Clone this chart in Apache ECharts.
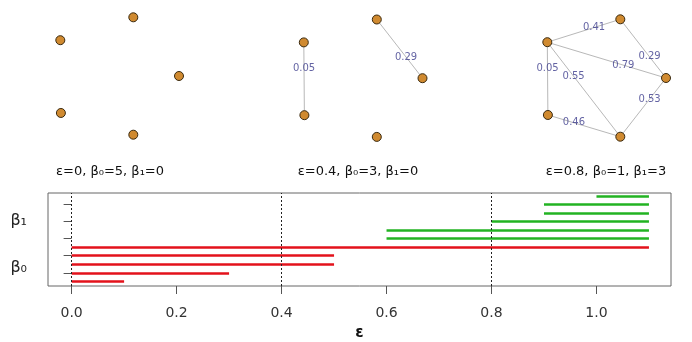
<!DOCTYPE html>
<html>
<head>
<meta charset="utf-8">
<script src="https://cdn.jsdelivr.net/npm/echarts@6/dist/echarts.min.js"></script>
<style>
  html, body { margin: 0; padding: 0; background: #fff; }
  #chart { width: 692px; height: 342px; }
</style>
</head>
<body>
<div id="chart"></div>
<script>
// point cloud (layout units, y up)
var nodeX = [0.23, -1, 1, -0.99, 0.23]
var nodeY = [1, 0.61, 0.0, -0.63, -1]

// edges of the Rips complex: source, target, distance
var edgeSource = [3, 0, 1, 4, 4, 4, 1]
var edgeTarget = [1, 2, 0, 3, 2, 1, 2]
var edgeWeight = [0.05, 0.29, 0.41, 0.46, 0.53, 0.55, 0.79]

// the three snapshots
var epsilons = [0, 0.4, 0.8]
var betti0 = [5, 3, 1]
var betti1 = [0, 0, 3]

// barcode
var h0Birth = [0, 0, 0, 0, 0]
var h0Death = [0.1, 0.3, 0.5, 0.5, 1.1]
var h1Birth = [0.6, 0.6, 0.8, 0.9, 0.9, 1.0]
var h1Death = [1.1, 1.1, 1.1, 1.1, 1.1, 1.1]
var epsLines = [0, 0.4, 0.8]

var xTicks = [0, 0.2, 0.4, 0.6, 0.8, 1.0]
var yTicks = [2, 4, 6, 8, 10]
var yLabelPos = [3, 8.5]
var yLabels = ['β₀', 'β₁']

var font = 'DejaVu Sans'
var panelLeft = [60.3, 303.8, 547.3]
var panelTop = [17.3, 19.5, 19.3]
var captionX = [110, 358, 606]
var labelFrac = 0.64

var chart = echarts.init(document.getElementById('chart'), null, { renderer: 'canvas' })

var grids = [{ left: 48, top: 193, width: 623, height: 93, show: true, borderColor: '#666', borderWidth: 1 }]
var xAxes = [{
  type: 'value', gridIndex: 0, min: -0.045, max: 1.142,
  splitLine: { show: false },
  axisLine: { show: false },
  axisTick: { customValues: xTicks, length: 8, lineStyle: { color: '#555' } },
  axisLabel: {
    customValues: xTicks, margin: 20, fontSize: 14, color: '#333', fontFamily: font,
    formatter: function (v) { return v.toFixed(1) }
  },
  name: 'ε', nameLocation: 'middle', nameGap: 40,
  nameTextStyle: { fontSize: 15, fontWeight: 'bold', color: '#111', fontFamily: font }
}]
var yAxes = [{
  type: 'value', gridIndex: 0, min: 0.45, max: 11.35,
  splitLine: { show: false },
  axisLine: { show: false },
  axisTick: { customValues: yTicks, length: 8, lineStyle: { color: '#555' } },
  axisLabel: {
    customValues: yLabelPos, margin: 21, color: '#222',
    formatter: function (v) { return '{b|' + yLabels[yLabelPos.indexOf(v)] + '}' },
    rich: { b: { fontSize: 16, fontFamily: font, color: '#222', padding: [8, 0, 0, 0] } }
  }
}]

var series = []

// barcode bars
series.push({
  type: 'lines', coordinateSystem: 'cartesian2d', xAxisIndex: 0, yAxisIndex: 0,
  lineStyle: { color: '#e3121b', width: 2.5, opacity: 1 },
  data: h0Birth.map(function (b, i) { return { coords: [[b, i + 1], [h0Death[i], i + 1]] } })
})
series.push({
  type: 'lines', coordinateSystem: 'cartesian2d', xAxisIndex: 0, yAxisIndex: 0,
  lineStyle: { color: '#22b322', width: 2.5, opacity: 1 },
  data: h1Birth.map(function (b, i) {
    var y = h0Birth.length + 1 + i
    return { coords: [[b, y], [h1Death[i], y]] }
  })
})
series.push({
  type: 'lines', coordinateSystem: 'cartesian2d', xAxisIndex: 0, yAxisIndex: 0,
  lineStyle: { color: '#222', width: 1, type: [2, 2], opacity: 1 },
  data: epsLines.map(function (e) { return { coords: [[e, 0.45], [e, 11.35]] } })
})

// the three graphs
epsilons.forEach(function (eps, k) {
  grids.push({ left: panelLeft[k], top: panelTop[k], width: 118.7, height: 117.4 })
  xAxes.push({ type: 'value', gridIndex: k + 1, min: -1, max: 1, show: false })
  yAxes.push({ type: 'value', gridIndex: k + 1, min: -1, max: 1, show: false })

  var links = []
  var labels = []
  for (var i = 0; i < edgeWeight.length; i++) {
    if (edgeWeight[i] > eps) continue
    var s = edgeSource[i], t = edgeTarget[i]
    links.push({ source: s, target: t })
    labels.push([
      nodeX[s] + (nodeX[t] - nodeX[s]) * labelFrac,
      nodeY[s] + (nodeY[t] - nodeY[s]) * labelFrac,
      edgeWeight[i]
    ])
  }

  series.push({
    type: 'graph', coordinateSystem: 'cartesian2d', xAxisIndex: k + 1, yAxisIndex: k + 1,
    symbolSize: 9,
    itemStyle: { color: '#d08a30', borderColor: '#3a2a10', borderWidth: 1 },
    lineStyle: { color: '#b8b8b8', width: 1, opacity: 1 },
    label: { show: false },
    data: nodeX.map(function (x, i) { return { value: [x, nodeY[i]] } }),
    links: links,
    z: 3
  })
  series.push({
    type: 'scatter', xAxisIndex: k + 1, yAxisIndex: k + 1,
    symbolSize: 1, clip: false,
    itemStyle: { color: 'rgba(0,0,0,0)' },
    label: {
      show: true, position: 'inside', fontSize: 10, color: '#3c3c8c', fontFamily: font,
      formatter: function (p) { return p.value[2].toFixed(2) }
    },
    data: labels,
    z: 4
  })
})

var captions = epsilons.map(function (eps, k) {
  return {
    type: 'text', x: captionX[k], y: 172,
    style: {
      text: 'ε=' + eps + ', β₀=' + betti0[k] + ', β₁=' + betti1[k],
      font: '13px "' + font + '"', fill: '#111',
      textAlign: 'center', textVerticalAlign: 'middle'
    }
  }
})

chart.setOption({
  animation: false,
  backgroundColor: '#fff',
  grid: grids,
  xAxis: xAxes,
  yAxis: yAxes,
  series: series,
  graphic: captions
})
</script>
</body>
</html>
